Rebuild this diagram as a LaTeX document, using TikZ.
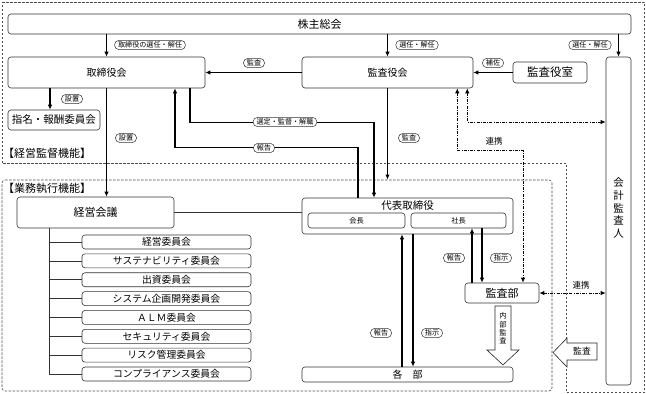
\documentclass[tikz,border=0pt]{standalone}
\usepackage{fontspec}
\setmainfont{Noto Sans CJK JP}
\usetikzlibrary{arrows.meta,calc}
\tikzset{
  box/.style={draw=black!80, line width=0.6pt, rounded corners=3pt, fill=white, inner sep=0pt, font=\fontsize{10}{12}\selectfont},
  cbox/.style={box, minimum width=169pt, minimum height=14pt, font=\fontsize{9.8}{11}\selectfont},
  pill/.style={draw=black!80, line width=0.5pt, rounded corners=4.5pt, fill=white, inner xsep=3.5pt, inner ysep=1.4pt, font=\fontsize{7.1}{8}\selectfont},
  arr/.style={line width=1.3pt, -{Latex[length=5pt,width=4.5pt]}},
  ddarr/.style={line width=0.9pt, dash pattern=on 3pt off 1.2pt on 1pt off 1.2pt, {Latex[length=5pt,width=4.5pt]}-{Latex[length=5pt,width=4.5pt]}},
  region/.style={draw=black!70, line width=0.6pt, dash pattern=on 2.5pt off 1.5pt},
  thinline/.style={line width=0.6pt, draw=black!80},
  plain/.style={inner sep=0pt, font=\fontsize{8.5}{9}\selectfont},
  barrow/.style={draw=black!85, line width=0.6pt, fill=white},
}
\begin{document}
\begin{tikzpicture}[x=1pt,y=-1pt]
\useasboundingbox (0,0) rectangle (646,394);
\fill[white] (0,0) rectangle (646,394);
% regions
\draw[region] (2,2) -- (644.5,2) -- (644.5,392) -- (566,392) -- (566,163) -- (2,163) -- cycle;
\draw[region, rounded corners=3pt] (2,180) -- (552,180) -- (552,391) -- (2,391) -- cycle;
\node[anchor=west, inner sep=0pt, font=\fontsize{11}{12}\selectfont] (lblA) at (3,153) {【経営監督機能】};
\node[anchor=west, inner sep=0pt, font=\fontsize{11}{12}\selectfont] (lblB) at (3,188) {【業務執行機能】};
% boxes
\node[box, minimum width=623pt, minimum height=20pt, font=\fontsize{11}{12}\selectfont] (kabu) at (319.5,24) {株主総会};
\node[box, minimum width=197pt, minimum height=31pt] (tori) at (106.5,72.5) {取締役会};
\node[box, minimum width=171pt, minimum height=31pt] (kansa) at (387.5,72.5) {監査役会};
\node[box, minimum width=74pt, minimum height=21pt, font=\fontsize{11.5}{13}\selectfont] (shitsu) at (550,72.5) {監査役室};
\node[box, minimum width=25pt, minimum height=328pt, align=center, font=\fontsize{10.5}{12.8}\selectfont] (kaikei) at (618.5,221) {会\\計\\監\\査\\人\\[14pt]};
\node[box, minimum width=92pt, minimum height=20pt, font=\fontsize{10.5}{12}\selectfont] (shimei) at (54,120) {指名・報酬委員会};
\node[box, minimum width=157pt, minimum height=31pt, font=\fontsize{11}{12}\selectfont] (keiei) at (95.5,212.5) {経営会議};
\foreach \i/\t in {1/経営委員会, 2/サステナビリティ委員会, 3/出資委員会, 4/システム企画開発委員会, 5/ＡＬＭ委員会, 6/セキュリティ委員会, 7/リスク管理委員会, 8/コンプライアンス委員会}
  \node[cbox] (c\i) at (166.5,{242+(\i-1)*18.86}) {\t};
\node[box, minimum width=211pt, minimum height=36pt] (daihyo) at (407.5,216) {};
\node[inner sep=0pt, font=\fontsize{10.5}{12}\selectfont] (daihyoT) at (407.5,205.5) {代表取締役};
\node[box, minimum width=97pt, minimum height=15pt, font=\fontsize{7.2}{8}\selectfont] (kaicho) at (356.5,220.5) {会長};
\node[box, minimum width=95pt, minimum height=15pt, font=\fontsize{7.2}{8}\selectfont] (shacho) at (458.5,220.5) {社長};
\node[box, minimum width=211pt, minimum height=15pt] (kakubu) at (407.5,374.5) {各　部};
\node[box, minimum width=74pt, minimum height=20pt, font=\fontsize{11}{12}\selectfont] (kansabu) at (502,293) {監査部};
% connectors
\draw[arr] (tori.north |- kabu.south) -- (tori.north);
\draw[arr] (kansa.north |- kabu.south) -- (kansa.north);
\draw[arr] (kaikei.north |- kabu.south) -- (kaikei.north);
\draw[arr] (kansa.west) -- (tori.east);
\draw[arr] (shitsu.west) -- (kansa.east);
\draw[arr] ([xshift=-56.5pt]tori.south) -- ([xshift=-4pt]shimei.north);
\draw[arr] (tori.south) -- (tori.south |- keiei.north);
\draw[arr] ([xshift=83.5pt]tori.south) -- ++(0,34) -| ([xshift=-33.5pt]daihyo.north);
\draw[arr] ([xshift=-49.5pt]daihyo.north) -- ++(0,-50) -| ([xshift=68.5pt]tori.south);
\coordinate (gtop) at (387.5,179.5);
\draw[arr] (kansa.south) -- (gtop);
\draw[ddarr] ([xshift=-16pt]kansa.south east) -- ++(0,62) -| ([xshift=21pt]kansabu.north);
\draw[ddarr] ([xshift=-6pt]kansa.south east) |- ([yshift=99pt]kaikei.west);
\draw[ddarr] (kansabu.east) -- (kansabu.east -| kaikei.west);
\draw[arr] ([xshift=-30pt]kansabu.north) -- ([xshift=-30pt]kansabu.north |- shacho.south);
\draw[arr] ([xshift=-20pt]kansabu.north |- shacho.south) -- ([xshift=-20pt]kansabu.north);
\draw[arr] ([xshift=-5.5pt]kakubu.north) -- ([xshift=-5.5pt]kakubu.north |- daihyo.south);
\draw[arr] ([xshift=5.5pt]kakubu.north |- daihyo.south) -- ([xshift=5.5pt]kakubu.north);
\coordinate (tr) at ([xshift=-46.5pt]keiei.south);
\draw[thinline] (tr) -- (tr |- c8.west);
\foreach \i in {1,...,8} \draw[thinline] (tr |- c\i.west) -- (c\i.west);
\draw[thinline] (keiei.east) -- (keiei.east -| daihyo.west);
% block arrows
\draw[barrow] (495,306) -- (511,306) -- (511,350) -- (519,350) -- (503,365) -- (487,350) -- (495,350) -- cycle;
\node[align=center, inner sep=0pt, font=\fontsize{7.3}{8.4}\selectfont] (naibu) at (503,328.5) {内\\部\\監\\査};
\draw[barrow] (597,343) -- (567,343) -- (567,338) -- (553,352.5) -- (567,367) -- (567,360) -- (597,360) -- cycle;
\node[inner sep=0pt, font=\fontsize{8.8}{9}\selectfont] (kansaA) at (582,351.5) {監査};
% labels
\node[pill] (p1) at (150,45) {取締役の選任・解任};
\node[pill] (p2) at (417,45) {選任・解任};
\node[pill] (p3) at (590,45) {選任・解任};
\node[pill] (p4) at (254,63) {監査};
\node[pill] (p5) at (493,63) {補佐};
\node[pill] (p6) at (72,99) {設置};
\node[pill] (p7) at (126,138) {設置};
\node[pill] (p8) at (285,122) {選定・監督・解職};
\node[pill] (p9) at (264,148) {報告};
\node[pill] (p10) at (409,138) {監査};
\node[pill] (p11) at (454,258) {報告};
\node[pill] (p12) at (501,258) {指示};
\node[pill] (p13) at (381,333) {報告};
\node[pill] (p14) at (432,333) {指示};
\node[plain] (rk1) at (494,141) {連携};
\node[plain] (rk2) at (581,285) {連携};
\end{tikzpicture}
\end{document}
